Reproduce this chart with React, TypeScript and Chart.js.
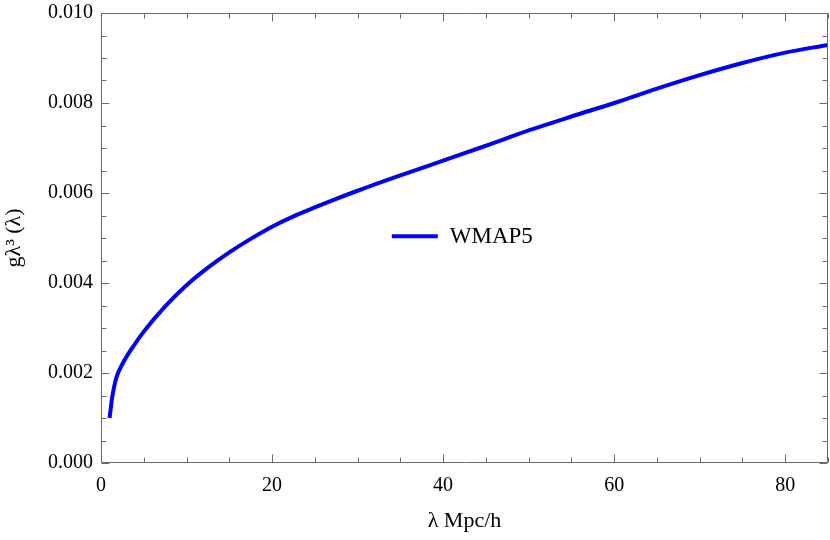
import React, { useEffect, useRef } from "react";
import { Chart, registerables } from "chart.js";

Chart.register(...registerables);

const seriesLabel = "WMAP5";
const lambdaValues = [1, 1.3, 1.8, 2.5, 3.8, 5, 7.5, 10, 12.5, 15, 17.5, 20, 22.5, 25, 27.5, 30, 35, 40, 45, 50, 55, 60, 65, 70, 75, 80, 85];
const gValues = [0.001, 0.00145, 0.0019, 0.0022, 0.0026, 0.00292, 0.00348, 0.00395, 0.00434, 0.00468, 0.00498, 0.00525, 0.00548, 0.00568, 0.00587, 0.00605, 0.00639, 0.00672, 0.00705, 0.00739, 0.0077, 0.008, 0.00832, 0.00862, 0.00889, 0.00912, 0.00929];

const xMajorTicks = [0, 20, 40, 60, 80];
const xMinorTicks = [5, 10, 15, 25, 30, 35, 45, 50, 55, 65, 70, 75, 85];
const yMajorTicks = [0, 0.002, 0.004, 0.006, 0.008, 0.01];
const yMinorTicks = [0.0005, 0.001, 0.0015, 0.0025, 0.003, 0.0035, 0.0045, 0.005, 0.0055, 0.0065, 0.007, 0.0075, 0.0085, 0.009, 0.0095];

const xTitle = "λ Mpc/h";
const yTitle = "gλ³ (λ)";
const FONT = "'Liberation Serif', 'DejaVu Serif', serif";

const framePlugin = {
  id: "frameTicks",
  afterDatasetsDraw(chart: any) {
    const { ctx, chartArea: a, scales } = chart;
    const xs = scales.x;
    const ys = scales.y;
    ctx.save();
    ctx.strokeStyle = "#6a6a6a";
    ctx.lineWidth = 1;
    const L = Math.round(a.left) + 0.5;
    const R = Math.round(a.right) - 0.5;
    const T = Math.round(a.top) + 0.5;
    const B = Math.round(a.bottom) - 0.5;
    ctx.beginPath();
    ctx.rect(L, T, R - L, B - T);
    ctx.stroke();
    const drawX = (v: number, len: number) => {
      const p = Math.round(xs.getPixelForValue(v)) + 0.5;
      if (p < L - 1 || p > R + 1) return;
      ctx.beginPath();
      ctx.moveTo(p, B);
      ctx.lineTo(p, B - len);
      ctx.moveTo(p, T);
      ctx.lineTo(p, T + len);
      ctx.stroke();
    };
    const drawY = (v: number, len: number) => {
      const p = Math.round(ys.getPixelForValue(v)) + 0.5;
      ctx.beginPath();
      ctx.moveTo(L, p);
      ctx.lineTo(L + len, p);
      ctx.moveTo(R, p);
      ctx.lineTo(R - len, p);
      ctx.stroke();
    };
    xMajorTicks.forEach((v) => drawX(v, 8));
    xMinorTicks.forEach((v) => drawX(v, 5));
    yMajorTicks.forEach((v) => drawY(v, 8));
    yMinorTicks.forEach((v) => drawY(v, 5));
    ctx.restore();
  },
};

const legendPlugin = {
  id: "innerLegend",
  afterDraw(chart: any) {
    const { ctx, chartArea: a } = chart;
    const ds = chart.data.datasets[0];
    const x0 = a.left + a.width * 0.4;
    const y0 = a.top + a.height * 0.496;
    ctx.save();
    ctx.strokeStyle = ds.borderColor;
    ctx.lineWidth = 4;
    ctx.lineCap = "butt";
    ctx.beginPath();
    ctx.moveTo(x0, y0);
    ctx.lineTo(x0 + 46, y0);
    ctx.stroke();
    ctx.fillStyle = "#000";
    ctx.font = `23px ${FONT}`;
    ctx.textBaseline = "middle";
    ctx.textAlign = "left";
    ctx.fillText(ds.label, x0 + 58, y0 + 1);
    ctx.restore();
  },
};

export default function App() {
  const ref = useRef<HTMLCanvasElement>(null);
  useEffect(() => {
    if (!ref.current) return;
    const chart = new Chart(ref.current, {
      type: "line",
      data: {
        datasets: [
          {
            label: seriesLabel,
            data: lambdaValues.map((x, i) => ({ x, y: gValues[i] })),
            borderColor: "#0000ff",
            borderWidth: 4,
            pointRadius: 0,
            fill: false,
            cubicInterpolationMode: "monotone",
          },
        ],
      },
      options: {
        animation: false,
        responsive: false,
        devicePixelRatio: 1,
        layout: { padding: { top: 13, right: 2, left: 0, bottom: 0 } },
        plugins: { legend: { display: false }, tooltip: { enabled: false } },
        scales: {
          x: {
            type: "linear",
            min: 0,
            max: 85,
            grid: { display: false },
            border: { display: false },
            afterFit: (s: any) => {
              s.height = 77;
            },
            afterBuildTicks: (s: any) => {
              s.ticks = xMajorTicks.map((v) => ({ value: v }));
            },
            ticks: {
              color: "#000",
              font: { family: FONT, size: 20 },
              padding: 3,
              maxRotation: 0,
              callback: (v: any) => String(v),
            },
            title: {
              display: true,
              text: xTitle,
              color: "#000",
              font: { family: FONT, size: 22 },
              padding: { top: 0, bottom: 6 },
            },
          },
          y: {
            type: "linear",
            min: 0,
            max: 0.01,
            grid: { display: false },
            border: { display: false },
            afterFit: (s: any) => {
              s.width = 101;
            },
            afterBuildTicks: (s: any) => {
              s.ticks = yMajorTicks.map((v) => ({ value: v }));
            },
            ticks: {
              color: "#000",
              font: { family: FONT, size: 20 },
              padding: 0,
              callback: (v: any) => Number(v).toFixed(3),
            },
            title: {
              display: true,
              text: yTitle,
              color: "#000",
              font: { family: FONT, size: 22 },
              padding: { top: 1, bottom: 0 },
            },
          },
        },
      },
      plugins: [framePlugin, legendPlugin],
    } as any);
    return () => chart.destroy();
  }, []);
  return (
    <div style={{ position: "fixed", left: 0, top: 0, width: 830, height: 540, background: "#fff" }}>
      <canvas ref={ref} width={830} height={540} style={{ display: "block" }} />
    </div>
  );
}
